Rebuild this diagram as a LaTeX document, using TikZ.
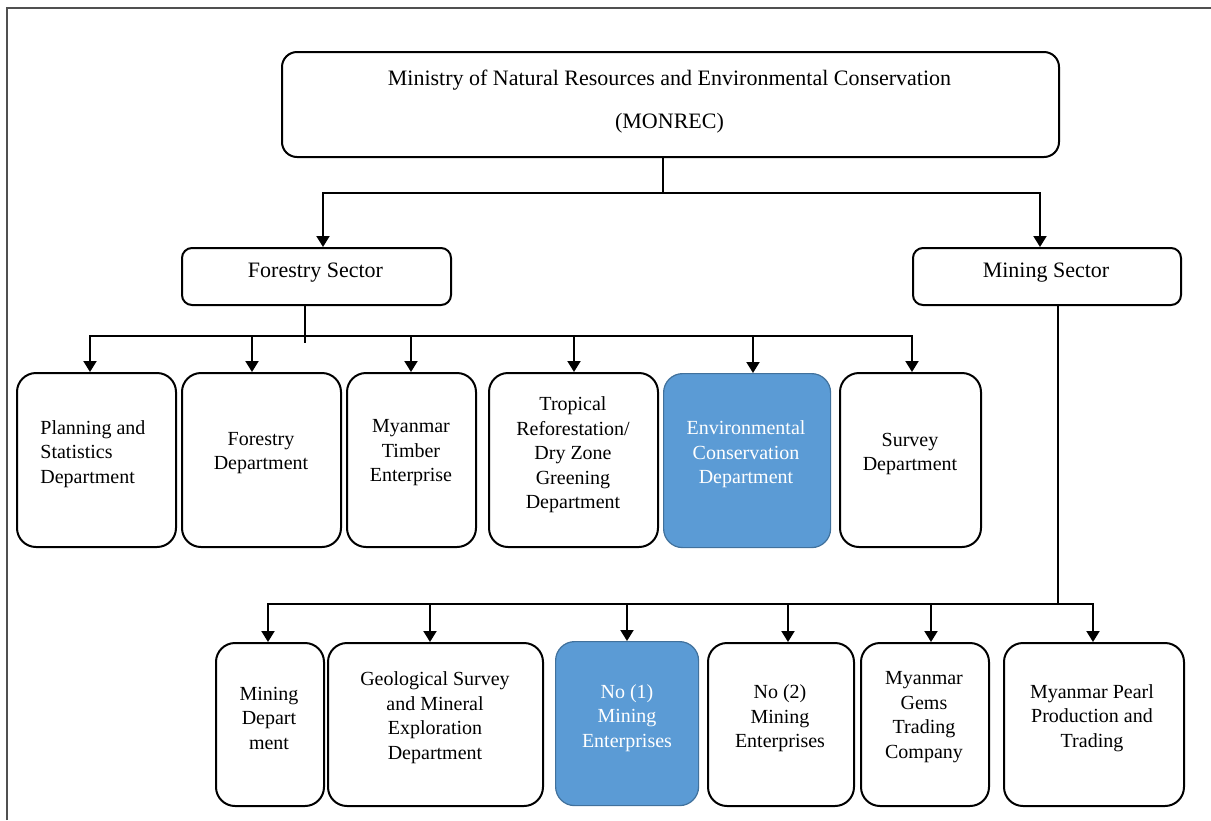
\documentclass[tikz,border=0pt]{standalone}
\usepackage{fontspec}
\setmainfont{Liberation Serif}
\usetikzlibrary{arrows.meta}
\definecolor{fillblue}{HTML}{5B9BD5}
\definecolor{edgeblue}{HTML}{41719C}
\definecolor{framec}{HTML}{505050}
\begin{document}
\begin{tikzpicture}[x=0.5pt,y=-0.5pt,
  box/.style={draw=black, line width=1pt, rounded corners=9.5pt, fill=white, anchor=north west, inner sep=0pt},
  bluebox/.style={draw=edgeblue, fill=fillblue, line width=0.6pt, rounded corners=9.5pt, anchor=north west, inner sep=0pt},
  bigtxt/.style={align=center, font=\fontsize{11pt}{21.5pt}\selectfont, inner sep=0pt, yshift=-1.5pt},
  txt/.style={align=center, font=\fontsize{10pt}{12.25pt}\selectfont, inner sep=0pt, yshift=-1.5pt},
  wtxt/.style={txt, text=white},
  conn/.style={line width=1pt},
  arr/.style={conn, -{Triangle[width=6.5pt,length=5.5pt]}}
]
\useasboundingbox (0,0) rectangle (1211,820);
% frame
\draw[framec, line width=0.8pt] (7,820) -- (7,8) -- (1211,8);

% top
\node[box, rounded corners=7.5pt, minimum width=388.5pt, minimum height=52.5pt] (min) at (281,51) {};
\node[bigtxt] (mint) at (669.5,98.5) {Ministry of Natural Resources and Environmental Conservation\\(MONREC)};

% sectors
\node[box, rounded corners=5pt, minimum width=134.5pt, minimum height=28.5pt] (fs) at (181,247) {};
\node[bigtxt] (fst) at (315.5,270) {Forestry Sector};
\node[box, rounded corners=5pt, minimum width=134pt, minimum height=28.5pt] (ms) at (912,247) {};
\node[bigtxt] (mst) at (1046,270) {Mining Sector};

% row 1
\node[box, minimum width=79.5pt, minimum height=87pt] (p1) at (16,372) {};
\node[txt, align=left, anchor=west] (p1t) at (40,451) {Planning and\\Statistics\\Department};
\node[box, minimum width=79.5pt, minimum height=87pt] (p2) at (181,372) {};
\node[txt] (p2t) at (261,450) {Forestry\\Department};
\node[box, minimum width=64.5pt, minimum height=87pt] (p3) at (346,372) {};
\node[txt] (p3t) at (411,450) {Myanmar\\Timber\\Enterprise};
\node[box, minimum width=84.5pt, minimum height=87pt] (p4) at (488,372) {};
\node[txt] (p4t) at (573,452) {Tropical\\Reforestation/\\Dry Zone\\Greening\\Department};
\node[bluebox, minimum width=83.5pt, minimum height=87pt] (p5) at (663,373) {};
\node[wtxt] (p5t) at (746,451.5) {Environmental\\Conservation\\Department};
\node[box, minimum width=70.5pt, minimum height=87pt] (p6) at (839,372) {};
\node[txt] (p6t) at (910,451) {Survey\\Department};

% row 2
\node[box, minimum width=54pt, minimum height=81.5pt] (q1) at (215,642) {};
\node[txt] (q1t) at (269,715) {Mining\\Depart\\ment};
\node[box, minimum width=107.5pt, minimum height=81.5pt] (q2) at (327,642) {};
\node[txt] (q2t) at (435,714.5) {Geological Survey\\and Mineral\\Exploration\\Department};
\node[bluebox, minimum width=71.5pt, minimum height=82pt] (q3) at (555,641) {};
\node[wtxt] (q3t) at (627,715) {No (1)\\Mining\\Enterprises};
\node[box, minimum width=73pt, minimum height=81.5pt] (q4) at (707,642) {};
\node[txt] (q4t) at (780,715.5) {No (2)\\Mining\\Enterprises};
\node[box, minimum width=64pt, minimum height=81.5pt] (q5) at (860,642) {};
\node[txt] (q5t) at (924,714) {Myanmar\\Gems\\Trading\\Company};
\node[box, minimum width=90pt, minimum height=81.5pt] (q6) at (1003,642) {};
\node[txt] (q6t) at (1092,715) {Myanmar Pearl\\Production and\\Trading};

% connectors: ministry -> sectors
\coordinate (mj) at (663,193);
\coordinate (fl) at (323,193);
\coordinate (ml) at (1040,193);
\draw[conn] (min.south -| mj) -- (mj);
\draw[arr] (ml) -| (fs.north -| fl);
\draw[arr] (fl) -| (ms.north -| ml);

% forestry bus
\coordinate (fj) at (305,343);
\draw[line width=0.6pt] (fs.south -| fj) -- (fj);
\coordinate (b1) at (90,336);
\coordinate (b2) at (252,336);
\coordinate (b3) at (411,336);
\coordinate (b4) at (574,336);
\coordinate (b5) at (753,336);
\coordinate (b6) at (912,336);
\draw[arr] (b6) -| (p1.north -| b1);
\draw[arr] (b1) -| (p6.north -| b6);
\draw[arr] (b2) -- (b2 |- p2.north);
\draw[arr] (b3) -- (b3 |- p3.north);
\draw[arr] (b4) -- (b4 |- p4.north);
\draw[arr] (b5) -- (b5 |- p5.north);

% mining bus
\coordinate (mjn) at (1058,604);
\draw[conn] (ms.south -| mjn) -- (mjn);
\coordinate (c1) at (268,604);
\coordinate (c2) at (430,604);
\coordinate (c3) at (627,604);
\coordinate (c4) at (788,604);
\coordinate (c5) at (931,604);
\coordinate (c6) at (1093,604);
\draw[arr] (c6) -| (q1.north -| c1);
\draw[arr] (c1) -| (q6.north -| c6);
\draw[arr] (c2) -- (c2 |- q2.north);
\draw[arr] (c3) -- (c3 |- q3.north);
\draw[arr] (c4) -- (c4 |- q4.north);
\draw[arr] (c5) -- (c5 |- q5.north);
\end{tikzpicture}
\end{document}
